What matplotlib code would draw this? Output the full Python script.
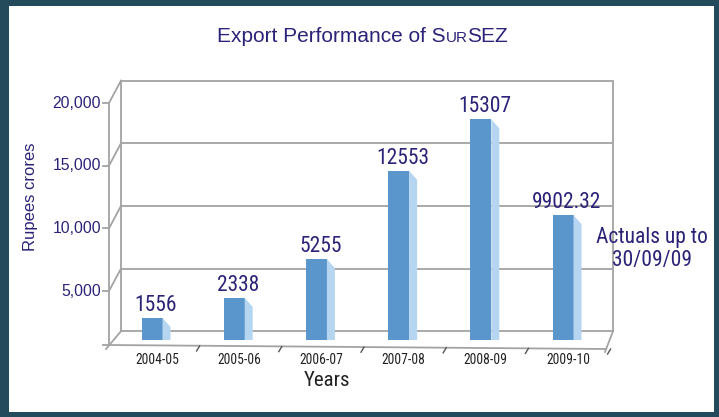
import matplotlib
matplotlib.use("Agg")
import matplotlib.pyplot as plt
from matplotlib import font_manager
from matplotlib.patches import Polygon, Rectangle

# ---------------- data ----------------
years = ["2004-05", "2005-06", "2006-07", "2007-08", "2008-09", "2009-10"]
value_labels = ["1556", "2338", "5255", "12553", "15307", "9902.32"]
# bar tops as drawn in the picture, read against the front value axis
bar_tops = [2850, 4450, 7550, 14600, 18700, 11050]
ytick_values = [5000, 10000, 15000, 20000]
ytick_labels = ["5,000", "10,000", "15,000", "20,000"]

# ---------------- styling ----------------
W, H = 719, 417
PURPLE = "#2b2377"
GRID = "#a3a3a3"
FRONT = "#5a96cc"
SIDE = "#b6d5f0"
BORDER = "#244b5b"
REG = ["Liberation Sans", "DejaVu Sans"]

# pick a condensed face if one is installed, else a compact one at a smaller size
_fonts = font_manager.fontManager.ttflist
_names = {f.name for f in _fonts}
NARROW_KW = None
for cand in ["Liberation Sans Narrow", "Roboto Condensed", "Open Sans Condensed"]:
    if cand in _names:
        NARROW_KW = dict(family=[cand, "DejaVu Sans"])
        NSCALE = 1.0
        break
if NARROW_KW is None:
    if any(f.name == "DejaVu Sans" and str(f.stretch) in ("condensed", "semi-condensed")
           for f in _fonts):
        NARROW_KW = dict(family=["DejaVu Sans"], fontstretch="condensed")
        NSCALE = 0.95
    else:
        NARROW_KW = dict(family=["Roboto", "DejaVu Sans"])
        NSCALE = 0.86

fig = plt.figure(figsize=(W / 100, H / 100), dpi=100)
fig.patch.set_facecolor(BORDER)
fig.patches.append(Rectangle((9 / W, 5 / H), 705 / W, 406 / H, transform=fig.transFigure,
                             facecolor="white", edgecolor="none", zorder=-5))

ax = fig.add_axes([0, 0, 1, 1])
ax.set_zorder(2)
ax.set_facecolor("none")
ax.axis("off")

# pixel <-> data mapping (category index / value)
px0, dpx = 157.0, 82.2
k = 0.012533           # px per value unit
py0 = 353.7            # pixel row of value 0 on the front axis
XLIM = ((0 - px0) / dpx, (W - px0) / dpx)
YLIM = ((py0 - H) / k, (py0 - 0) / k)


def X(px):
    return (px - px0) / dpx


def Y(py):
    return (py0 - py) / k


lw = 1.3
# back wall gridlines and frame
wall_dy = 22.5 / k
xl_front, xl_back, xr_back = X(109), X(121), X(613)
for v in [0] + ytick_values:
    ax.plot([xl_back, xr_back], [v + wall_dy, v + wall_dy], color=GRID, lw=lw, zorder=1,
            solid_capstyle="butt")
ax.plot([xl_back, xl_back], [wall_dy, 20000 + wall_dy], color=GRID, lw=lw, zorder=1)
ax.plot([xr_back, xr_back], [wall_dy, 20000 + wall_dy], color=GRID, lw=lw, zorder=1)

# front value axis with diagonals to the wall
front_floor = Y(345)
ax.plot([xl_front, xl_front], [front_floor, 20000], color=GRID, lw=lw, zorder=1)
for v in ytick_values:
    ax.plot([X(103), xl_front], [v, v], color=GRID, lw=lw, zorder=1)
    ax.plot([xl_front, xl_back], [v, v + wall_dy], color=GRID, lw=lw, zorder=1)
ax.plot([X(103), xl_front], [front_floor, front_floor], color=GRID, lw=lw, zorder=1)
ax.plot([X(106), xl_back], [Y(349), wall_dy], color=GRID, lw=lw, zorder=1)
# front floor edge and right corner
ax.plot([xl_front, X(606)], [front_floor, Y(349)], color=GRID, lw=lw, zorder=1)
ax.plot([X(605), xr_back], [Y(352), wall_dy], color=GRID, lw=lw, zorder=1)
# category separators
for i in range(len(years)):
    xs = i + 0.5
    ax.plot([xs + 1.5 / dpx, xs - 1.5 / dpx], [Y(346 + i * 0.6), Y(351 + i * 0.6)],
            color="#555555", lw=1.0, zorder=1)

# y tick labels
for v, lab in zip(ytick_values, ytick_labels):
    ax.text(X(101), v, lab, ha="right", va="center", color=PURPLE, fontsize=11.3, family=REG)

# bars
bar_w = 21 / dpx
side_dx = 8 / dpx
side_dy = 9 / k
base = Y(340)
xc = [i - 5 / dpx for i in range(len(years))]
heights = [t - base for t in bar_tops]
ax.bar(xc, heights, width=bar_w, bottom=base, color=FRONT, edgecolor="none", zorder=3)
for x, t in zip(xc, bar_tops):
    xr = x + bar_w / 2
    ax.add_patch(Polygon([(xr, base), (xr, t), (xr + side_dx, t - side_dy),
                          (xr + side_dx, base)], closed=True, facecolor=SIDE,
                         edgecolor="none", zorder=3))

# value labels
for x, t, lab in zip(xc, bar_tops, value_labels):
    ax.annotate(lab, (x + 4 / dpx, t), xytext=(0, 5), textcoords="offset points",
                ha="center", va="baseline", color=PURPLE, fontsize=15.5 * NSCALE,
                **NARROW_KW)

# category labels
for i, lab in enumerate(years):
    ax.text(i, Y(360), lab, ha="center", va="center", color="#222222",
            fontsize=9.8 * NSCALE, **NARROW_KW)

ax.text(X(327), Y(380), "Years", ha="center", va="center", color="#222222",
        fontsize=15 * NSCALE, **NARROW_KW)
ax.text(X(30), Y(197), "Rupees crores", ha="center", va="center", rotation=90,
        color=PURPLE, fontsize=12, family=REG)
ax.text(X(652), Y(249), "Actuals up to\n30/09/09", ha="center", va="center",
        color=PURPLE, fontsize=15.5 * NSCALE, linespacing=1.15, **NARROW_KW)

ax.set_xlim(*XLIM)
ax.set_ylim(*YLIM)

# title with small caps "UR"
renderer = fig.canvas.get_renderer()
parts = [("Export Performance of S", 15), ("UR", 11), ("SEZ", 15)]
texts = []
for s, fs in parts:
    texts.append(fig.text(0, 1 - 42 / H, s, ha="left", va="baseline", color=PURPLE,
                          fontsize=fs, family=REG))
widths = [t.get_window_extent(renderer).width for t in texts]
total = sum(widths)
x = 362.5 - total / 2
for t, w in zip(texts, widths):
    t.set_x(x / W)
    x += w

fig.savefig("out.png", dpi=100, facecolor=fig.get_facecolor())
